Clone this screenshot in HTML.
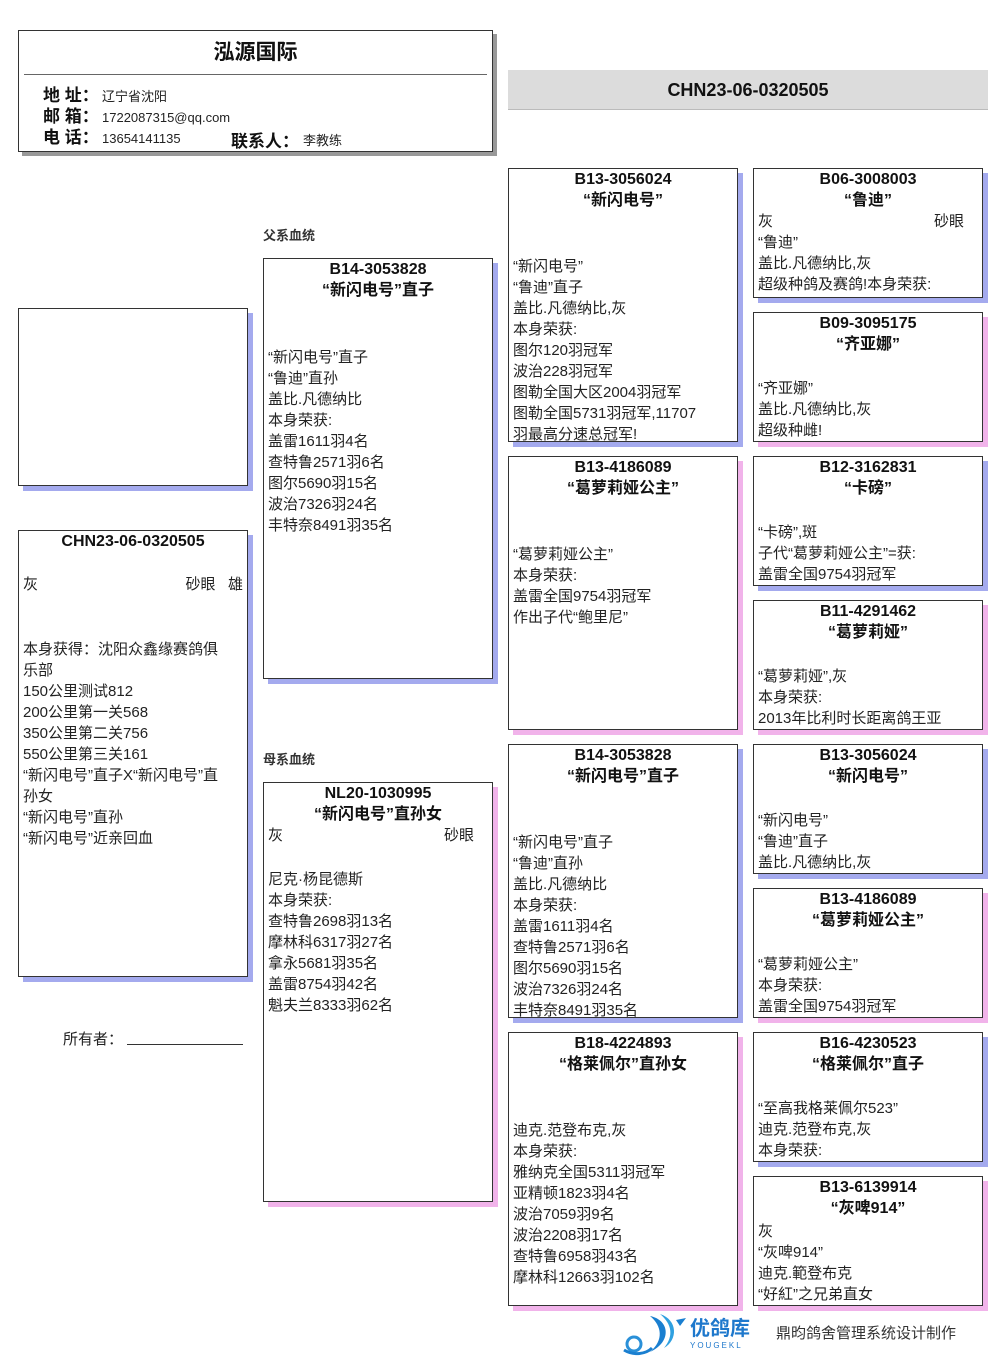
<!DOCTYPE html>
<html><head><meta charset="utf-8">
<style>
*{margin:0;padding:0;box-sizing:border-box}
body{width:1006px;height:1366px;background:#fff;position:relative;overflow:hidden;font-family:"Liberation Sans","Noto Sans CJK SC",sans-serif;color:#222}
.a{position:absolute}
.b{position:absolute;background:#fff;border:1px solid #333;font-size:15px;line-height:21px;padding-left:4px;overflow:hidden;white-space:nowrap}
.m{box-shadow:5px 5px 0 #a4aaee}
.f{box-shadow:5px 5px 0 #f1b3ea}
.t{text-align:center;font-weight:bold;font-size:16px;margin-left:-4px;color:#111}
.r{display:flex;justify-content:space-between;padding-right:18px}
.lbl{font-size:13px;font-weight:bold;color:#333}
</style></head><body>

<div class="a" style="left:18px;top:30px;width:475px;height:122px;border:1px solid #333;box-shadow:4px 4px 0 #999;background:#fff">
  <div class="a" style="left:0;width:473px;top:5px;text-align:center;font-size:21px;font-weight:bold;color:#111">泓源国际</div>
  <div class="a" style="left:5px;right:5px;top:43px;border-top:1px solid #666"></div>
  <div class="a" style="left:24px;top:54px;font-size:17px;font-weight:bold;line-height:21px;color:#111">地 址：<br>邮 箱：<br>电 话：</div>
  <div class="a" style="left:83px;top:55px;font-size:13px;line-height:21px;color:#222">辽宁省沈阳<br>1722087315@qq.com<br>13654141135</div>
  <div class="a" style="left:212px;top:96px;font-size:17px;font-weight:bold;color:#111">联系人：</div>
  <div class="a" style="left:284px;top:99px;font-size:13px;color:#222">李教练</div>
</div>

<div class="a" style="left:508px;top:70px;width:480px;height:40px;background:#dcdcdc;border-bottom:1px solid #bbb;text-align:center;line-height:40px;font-size:18px;font-weight:bold;color:#111">CHN23-06-0320505</div>

<div class="b m" style="left:18px;top:308px;width:230px;height:178px"></div>

<div class="b m" style="left:18px;top:530px;width:230px;height:447px;padding-top:0">
<div class="t">CHN23-06-0320505</div>
<div style="height:22px"></div>
<div style="display:flex;justify-content:space-between;padding-right:4px"><span>灰</span><span>砂眼&nbsp;&nbsp;&nbsp;雄</span></div>
<div style="height:44px"></div>
本身获得：沈阳众鑫缘赛鸽俱<br>乐部<br>150公里测试812<br>200公里第一关568<br>350公里第二关756<br>550公里第三关161<br>“新闪电号”直子X“新闪电号”直<br>孙女<br>“新闪电号”直孙<br>“新闪电号”近亲回血
</div>

<div class="a" style="left:63px;top:1028px;font-size:15px">所有者：</div>
<div class="a" style="left:127px;top:1044px;width:116px;border-top:1px solid #333"></div>

<div class="a lbl" style="left:263px;top:225px">父系血统</div>
<div class="a lbl" style="left:263px;top:749px">母系血统</div>

<div class="b m" style="left:263px;top:258px;width:230px;height:421px">
<div class="t">B14-3053828</div><div class="t">“新闪电号”直子</div><br><div style="height:25px"></div>
“新闪电号”直子<br>“鲁迪”直孙<br>盖比.凡德纳比<br>本身荣获:<br>盖雷1611羽4名<br>查特鲁2571羽6名<br>图尔5690羽15名<br>波治7326羽24名<br>丰特奈8491羽35名
</div>

<div class="b f" style="left:263px;top:782px;width:230px;height:420px">
<div class="t">NL20-1030995</div><div class="t">“新闪电号”直孙女</div>
<div class="r" style="padding-right:18px"><span>灰</span><span>砂眼</span></div><div style="height:23px"></div>
尼克·杨昆德斯<br>本身荣获:<br>查特鲁2698羽13名<br>摩林科6317羽27名<br>拿永5681羽35名<br>盖雷8754羽42名<br>魁夫兰8333羽62名
</div>

<div class="b m" style="left:508px;top:168px;width:230px;height:274px">
<div class="t">B13-3056024</div><div class="t">“新闪电号”</div><br><div style="height:24px"></div>
“新闪电号”<br>“鲁迪”直子<br>盖比.凡德纳比,灰<br>本身荣获:<br>图尔120羽冠军<br>波治228羽冠军<br>图勒全国大区2004羽冠军<br>图勒全国5731羽冠军,11707<br>羽最高分速总冠军!
</div>
<div class="b f" style="left:508px;top:456px;width:230px;height:274px">
<div class="t">B13-4186089</div><div class="t">“葛萝莉娅公主”</div><br><div style="height:24px"></div>
“葛萝莉娅公主”<br>本身荣获:<br>盖雷全国9754羽冠军<br>作出子代“鲍里尼”
</div>
<div class="b m" style="left:508px;top:744px;width:230px;height:274px">
<div class="t">B14-3053828</div><div class="t">“新闪电号”直子</div><br><div style="height:24px"></div>
“新闪电号”直子<br>“鲁迪”直孙<br>盖比.凡德纳比<br>本身荣获:<br>盖雷1611羽4名<br>查特鲁2571羽6名<br>图尔5690羽15名<br>波治7326羽24名<br>丰特奈8491羽35名
</div>
<div class="b f" style="left:508px;top:1032px;width:230px;height:274px">
<div class="t">B18-4224893</div><div class="t">“格莱佩尔”直孙女</div><br><div style="height:24px"></div>
迪克.范登布克,灰<br>本身荣获:<br>雅纳克全国5311羽冠军<br>亚精顿1823羽4名<br>波治7059羽9名<br>波治2208羽17名<br>查特鲁6958羽43名<br>摩林科12663羽102名
</div>

<div class="b m" style="left:753px;top:168px;width:230px;height:130px">
<div class="t">B06-3008003</div><div class="t">“鲁迪”</div>
<div class="r"><span>灰</span><span>砂眼</span></div>
“鲁迪”<br>盖比.凡德纳比,灰<br>超级种鸽及赛鸽!本身荣获:
</div>
<div class="b f" style="left:753px;top:312px;width:230px;height:130px">
<div class="t">B09-3095175</div><div class="t">“齐亚娜”</div><div style="height:23px"></div>
“齐亚娜”<br>盖比.凡德纳比,灰<br>超级种雌!
</div>
<div class="b m" style="left:753px;top:456px;width:230px;height:130px">
<div class="t">B12-3162831</div><div class="t">“卡磅”</div><div style="height:23px"></div>
“卡磅”,斑<br>子代“葛萝莉娅公主”=获:<br>盖雷全国9754羽冠军
</div>
<div class="b f" style="left:753px;top:600px;width:230px;height:130px">
<div class="t">B11-4291462</div><div class="t">“葛萝莉娅”</div><div style="height:23px"></div>
“葛萝莉娅”,灰<br>本身荣获:<br>2013年比利时长距离鸽王亚
</div>
<div class="b m" style="left:753px;top:744px;width:230px;height:130px">
<div class="t">B13-3056024</div><div class="t">“新闪电号”</div><div style="height:23px"></div>
“新闪电号”<br>“鲁迪”直子<br>盖比.凡德纳比,灰
</div>
<div class="b f" style="left:753px;top:888px;width:230px;height:130px">
<div class="t">B13-4186089</div><div class="t">“葛萝莉娅公主”</div><div style="height:23px"></div>
“葛萝莉娅公主”<br>本身荣获:<br>盖雷全国9754羽冠军
</div>
<div class="b m" style="left:753px;top:1032px;width:230px;height:130px">
<div class="t">B16-4230523</div><div class="t">“格莱佩尔”直子</div><div style="height:23px"></div>
“至高我格莱佩尔523”<br>迪克.范登布克,灰<br>本身荣获:
</div>
<div class="b f" style="left:753px;top:1176px;width:230px;height:130px">
<div class="t">B13-6139914</div><div class="t">“灰啤914”</div>
<div style="margin-top:2px">灰<br>“灰啤914”<br>迪克.範登布克<br>“好紅”之兄弟直女</div>
</div>

<svg class="a" style="left:620px;top:1312px" width="66" height="44" viewBox="0 0 66 44">
<path d="M30 4 C50 8 52 30 30 40 C44 28 42 14 30 4Z" fill="#1a7fd0"/>
<path d="M40 2 C58 8 58 28 44 36 C54 24 52 12 40 2Z" fill="#2fa0e0"/>
<path d="M56 8 L66 6 L60 14Z" fill="#1a7fd0"/>
<circle cx="14" cy="32" r="7" fill="none" stroke="#2a90d8" stroke-width="3"/>
<path d="M4 38 C14 44 26 42 32 36" fill="none" stroke="#1a7fd0" stroke-width="3"/>
</svg>
<div class="a" style="left:690px;top:1318px;font-size:20px;font-weight:bold;color:#1e78cc;line-height:22px">优鸽库</div>
<div class="a" style="left:690px;top:1341px;font-size:8px;color:#1e78cc;letter-spacing:2px">YOUGEKL</div>
<div class="a" style="left:776px;top:1322px;font-size:15px;color:#333">鼎昀鸽舍管理系统设计制作</div>

</body></html>
